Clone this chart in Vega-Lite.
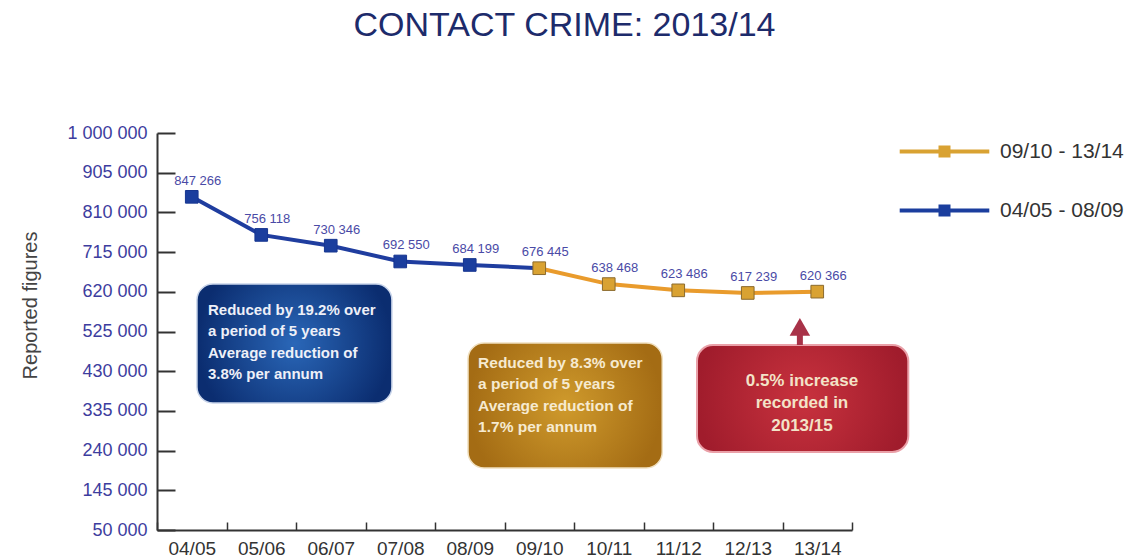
{
  "$schema": "https://vega.github.io/schema/vega-lite/v6.json",
  "width": 695,
  "height": 397,
  "autosize": "none",
  "padding": {"left": 157, "top": 133, "right": 275, "bottom": 30},
  "background": "white",
  "title": {"text": "CONTACT CRIME: 2013/14", "fontSize": 34, "fontWeight": "normal", "color": "#1d2b6b", "anchor": "middle", "dx": 60, "offset": 54, "baseline": "alphabetic"},
  "resolve": {"axis": {"x": "independent", "y": "independent"}},
  "datasets": {
    "series": [
      {"series": "04/05 - 08/09", "period": "04/05", "value": 847266},
      {"series": "04/05 - 08/09", "period": "05/06", "value": 756118},
      {"series": "04/05 - 08/09", "period": "06/07", "value": 730346},
      {"series": "04/05 - 08/09", "period": "07/08", "value": 692550},
      {"series": "04/05 - 08/09", "period": "08/09", "value": 684199},
      {"series": "04/05 - 08/09", "period": "09/10", "value": 676445},
      {"series": "09/10 - 13/14", "period": "09/10", "value": 676445},
      {"series": "09/10 - 13/14", "period": "10/11", "value": 638468},
      {"series": "09/10 - 13/14", "period": "11/12", "value": 623486},
      {"series": "09/10 - 13/14", "period": "12/13", "value": 617239},
      {"series": "09/10 - 13/14", "period": "13/14", "value": 620366}
    ],
    "notes": [
      {"note": "blue", "from": "04/05", "to": "07/08", "top": 638700, "bottom": 353900, "lines": ["Reduced by 19.2% over", "a period of 5 years", "Average reduction of", "3.8% per annum"]},
      {"note": "orange", "from": "08/09", "to": "11/12", "top": 497500, "bottom": 198400, "lines": ["Reduced by 8.3% over", "a period of 5 years", "Average reduction of", "1.7% per annum"]},
      {"note": "red", "from": "11/12", "to": "13/14", "top": 492700, "bottom": 236700, "tip": 535800, "lines": ["0.5% increase", "recorded in", "2013/15"]}
    ]
  },
  "layer": [
    {
      "data": {"name": "series"},
      "mark": {"type": "line", "strokeWidth": 4},
      "encoding": {
        "x": {"field": "period", "type": "ordinal",
          "scale": {"type": "band", "domain": ["04/05","05/06","06/07","07/08","08/09","09/10","10/11","11/12","12/13","13/14"], "paddingInner": 0, "paddingOuter": 0},
          "axis": {"title": null, "tickBand": "extent", "tickSize": -8, "tickWidth": 1.5, "tickColor": "#333333", "domainColor": "#333333", "domainWidth": 2, "labelFontSize": 19, "labelColor": "#333333", "labelPadding": 17, "labelAngle": 0, "grid": false}},
        "y": {"field": "value", "type": "quantitative",
          "scale": {"domain": [50000, 1000000], "nice": false, "zero": false},
          "axis": {"title": "Reported figures", "values": [50000,145000,240000,335000,430000,525000,620000,715000,810000,905000,1000000], "format": ",.0f", "tickSize": -18, "tickWidth": 2, "tickColor": "#333333", "domainColor": "#333333", "domainWidth": 2, "labelFontSize": 18, "labelColor": "#3d3d9e", "labelPadding": 28, "titleFontSize": 20, "titleColor": "#444444", "titleFontWeight": "normal", "titlePadding": 26, "titleY": 172, "grid": false}},
        "color": {"field": "series", "type": "nominal",
          "scale": {"domain": ["09/10 - 13/14", "04/05 - 08/09"], "range": ["#e99b2c", "#1f3d9f"]},
          "legend": {"title": null, "orient": "none", "legendX": 777, "legendY": 8, "direction": "vertical",
            "symbolType": "M-5.6,-0.25H5.6V0.25H-5.6Z M-0.75,-0.75H0.75V0.75H-0.75Z",
            "symbolSize": 256, "symbolStrokeWidth": 0, "labelFontSize": 21, "labelColor": "#333333", "labelOffset": 45, "rowPadding": 37,
            "encode": {"symbols": {"update": {"fill": {"scale": "color", "field": "value"}, "opacity": {"value": 1}}}}}}
      }
    },
    {
      "data": {"name": "notes"},
      "transform": [{"filter": "datum.note == 'blue'"}],
      "mark": {"type": "rect", "cornerRadius": 16, "fill": {"gradient": "radial", "stops": [{"offset": 0, "color": "#2a67b8"}, {"offset": 1, "color": "#0b2d70"}]}, "stroke": "#c8d4ea", "strokeWidth": 1.5},
      "encoding": {
        "x": {"field": "from", "type": "ordinal", "bandPosition": 0.575, "axis": null},
        "x2": {"field": "to", "bandPosition": 0.38},
        "y": {"field": "top", "type": "quantitative", "axis": null},
        "y2": {"field": "bottom"}
      }
    },
    {
      "data": {"name": "notes"},
      "transform": [{"filter": "datum.note == 'orange'"}],
      "mark": {"type": "rect", "cornerRadius": 16, "fill": {"gradient": "radial", "stops": [{"offset": 0, "color": "#cf9a2c"}, {"offset": 1, "color": "#a46c14"}]}, "stroke": "#f0e0c0", "strokeWidth": 1.5},
      "encoding": {
        "x": {"field": "from", "type": "ordinal", "bandPosition": 0.475, "axis": null},
        "x2": {"field": "to", "bandPosition": 0.27},
        "y": {"field": "top", "type": "quantitative", "axis": null},
        "y2": {"field": "bottom"}
      }
    },
    {
      "data": {"name": "notes"},
      "transform": [{"filter": "datum.note == 'red'"}],
      "mark": {"type": "rect", "cornerRadius": 16, "fill": {"gradient": "radial", "stops": [{"offset": 0, "color": "#c8323e"}, {"offset": 1, "color": "#a01c2c"}]}, "stroke": "#eaa0a8", "strokeWidth": 2},
      "encoding": {
        "x": {"field": "from", "type": "ordinal", "bandPosition": 0.77, "axis": null},
        "x2": {"field": "to", "bandPosition": 1.81},
        "y": {"field": "top", "type": "quantitative", "axis": null},
        "y2": {"field": "bottom"}
      }
    },
    {
      "data": {"name": "notes"},
      "transform": [{"filter": "datum.note == 'red'"}],
      "mark": {"type": "rule", "strokeWidth": 6, "color": "#a83248"},
      "encoding": {
        "x": {"field": "to", "type": "ordinal", "bandPosition": 0.25, "axis": null},
        "y": {"field": "top", "type": "quantitative", "axis": null},
        "y2": {"field": "tip"}
      }
    },
    {
      "data": {"name": "notes"},
      "transform": [{"filter": "datum.note == 'red'"}],
      "mark": {"type": "point", "shape": "triangle-up", "filled": true, "size": 420, "color": "#a83248", "opacity": 1},
      "encoding": {
        "x": {"field": "to", "type": "ordinal", "bandPosition": 0.25, "axis": null},
        "y": {"field": "tip", "type": "quantitative", "axis": null}
      }
    },
    {
      "data": {"name": "notes"},
      "transform": [{"filter": "datum.note == 'blue'"}],
      "mark": {"type": "text", "align": "left", "baseline": "top", "dy": 19, "fontSize": 15, "fontWeight": "bold", "lineHeight": 21.5, "color": "#eef0f8"},
      "encoding": {
        "x": {"field": "from", "type": "ordinal", "bandPosition": 0.734, "axis": null},
        "y": {"field": "top", "type": "quantitative", "axis": null},
        "text": {"field": "lines", "type": "nominal"}
      }
    },
    {
      "data": {"name": "notes"},
      "transform": [{"filter": "datum.note == 'orange'"}],
      "mark": {"type": "text", "align": "left", "baseline": "top", "dy": 13, "fontSize": 15.5, "fontWeight": "bold", "lineHeight": 21.5, "color": "#f6ead0"},
      "encoding": {
        "x": {"field": "from", "type": "ordinal", "bandPosition": 0.62, "axis": null},
        "y": {"field": "top", "type": "quantitative", "axis": null},
        "text": {"field": "lines", "type": "nominal"}
      }
    },
    {
      "data": {"name": "notes"},
      "transform": [{"filter": "datum.note == 'red'"}],
      "mark": {"type": "text", "align": "center", "baseline": "top", "dy": 28, "fontSize": 17, "fontWeight": "bold", "lineHeight": 22.5, "color": "#f3e3c8"},
      "encoding": {
        "x": {"field": "to", "type": "ordinal", "bandPosition": 0.28, "axis": null},
        "y": {"field": "top", "type": "quantitative", "axis": null},
        "text": {"field": "lines", "type": "nominal"}
      }
    },
    {
      "data": {"name": "series"},
      "transform": [{"filter": "datum.series == '09/10 - 13/14' || datum.period != '09/10'"}],
      "mark": {"type": "point", "shape": "square", "filled": true, "size": 160, "strokeWidth": 1, "opacity": 1},
      "encoding": {
        "x": {"field": "period", "type": "ordinal", "axis": null},
        "y": {"field": "value", "type": "quantitative", "axis": null},
        "fill": {"field": "series", "type": "nominal", "scale": {"domain": ["09/10 - 13/14", "04/05 - 08/09"], "range": ["#d9a232", "#1b3e9e"]}, "legend": null},
        "stroke": {"field": "series", "type": "nominal", "scale": {"domain": ["09/10 - 13/14", "04/05 - 08/09"], "range": ["#8b6a2d", "#173690"]}, "legend": null}
      }
    },
    {
      "data": {"name": "series"},
      "transform": [{"filter": "datum.series == '09/10 - 13/14' || datum.period != '09/10'"}],
      "mark": {"type": "text", "baseline": "bottom", "dx": 6, "dy": -9, "fontSize": 13, "color": "#4a4aa6"},
      "encoding": {
        "x": {"field": "period", "type": "ordinal", "axis": null},
        "y": {"field": "value", "type": "quantitative", "axis": null},
        "text": {"field": "value", "type": "quantitative", "format": ","}
      }
    }
  ],
  "config": {
    "font": "Liberation Sans",
    "view": {"stroke": null},
    "locale": {"number": {"decimal": ".", "thousands": " ", "grouping": [3], "currency": ["", ""]}}
  }
}
